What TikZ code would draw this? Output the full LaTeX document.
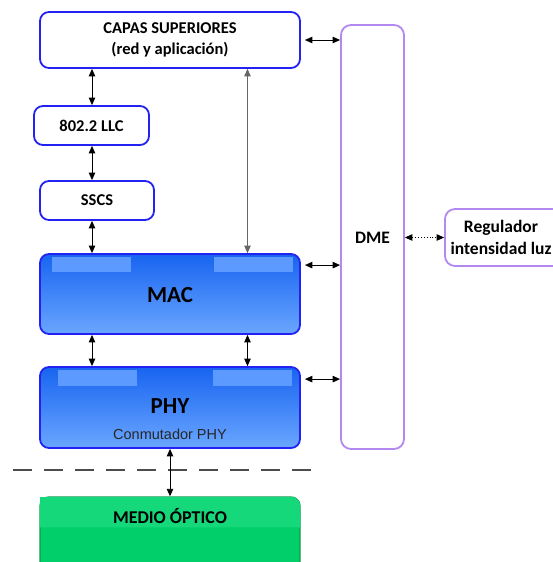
\documentclass[tikz,border=0pt]{standalone}
\usepackage{fontspec}
\setmainfont{Carlito}
\newfontfamily\arialfont{Liberation Sans}
\usetikzlibrary{arrows.meta,calc}
\definecolor{edgeblue}{HTML}{2222F2}
\definecolor{darkblue}{HTML}{1864F0}
\definecolor{lightblue}{HTML}{6AA6FF}
\definecolor{glowblue}{HTML}{5C9AFF}
\definecolor{dmepurple}{HTML}{B388F0}
\definecolor{medgreen}{HTML}{00CF6A}
\definecolor{medgreenlight}{HTML}{14D87A}
\definecolor{medgreenedge}{HTML}{139A4E}
\tikzset{
  whitebox/.style={draw=edgeblue, line width=1.8pt, fill=white, rounded corners=9pt,
    font=\bfseries\fontsize{16.5}{21}\selectfont, align=center, inner sep=0pt},
  layerbox/.style={draw=edgeblue, line width=1.8pt, rounded corners=9pt,
    top color=darkblue, bottom color=lightblue, inner sep=0pt},
  purplebox/.style={draw=dmepurple, line width=1.8pt, fill=white, rounded corners=10pt,
    font=\bfseries\fontsize{17.5}{22}\selectfont, align=center, inner sep=0pt},
  glow/.style={fill=glowblue, draw=none, inner sep=0pt},
  arr/.style={{Triangle[length=7.5pt,width=6.5pt]}-{Triangle[length=7.5pt,width=6.5pt]}, line width=0.9pt, black},
  grayarr/.style={arr, draw=gray!80!black},
  dotarr/.style={arr, dotted},
  bigtext/.style={font=\bfseries\fontsize{23}{27}\selectfont},
}
\begin{document}
\begin{tikzpicture}[x=1pt,y=-1pt]
\useasboundingbox (0,0) rectangle (552,562);

% upper layers and convergence sublayers
\node[whitebox, minimum width=260pt, minimum height=56pt] (capas) at (170,40)
  {CAPAS SUPERIORES\\(red y aplicación)};
\node[whitebox, minimum width=115pt, minimum height=39pt] (llc) at (91.5,125.5) {802.2 LLC};
\node[whitebox, minimum width=114pt, minimum height=39pt] (sscs) at (97,200.5) {SSCS};

% MAC layer
\node[layerbox, minimum width=260pt, minimum height=80pt] (mac) at (170,294) {};
\node[glow, minimum width=79pt, minimum height=15pt] (macg1) at (91.5,264.5) {};
\node[glow, minimum width=79pt, minimum height=15pt] (macg2) at (253.5,264.5) {};
\node[bigtext] (mactxt) at (170,295) {MAC};

% PHY layer
\node[layerbox, minimum width=260pt, minimum height=81pt] (phy) at (170,407.5) {};
\node[glow, minimum width=79pt, minimum height=16pt] (phyg1) at (97.5,378) {};
\node[glow, minimum width=79pt, minimum height=16pt] (phyg2) at (252.5,378) {};
\node[bigtext] (phytxt) at (170,406) {PHY};
\node[font=\arialfont\fontsize{14.5}{17}\selectfont, text=black!85] (physub) at (170,434) {Conmutador PHY};

% optical medium
\node[draw=medgreenedge, line width=1.4pt, fill=medgreen, rounded corners=9pt,
  minimum width=260pt, minimum height=90pt, inner sep=0pt] (medio) at (170,542) {};
\fill[medgreenlight] ([shift={(0.7pt,-0.7pt)}]medio.north west) [rounded corners=8.3pt]
  -- ([shift={(-0.7pt,-0.7pt)}]medio.north east) [sharp corners]
  -- ([shift={(-0.7pt,-31pt)}]medio.north east) -- ([shift={(0.7pt,-31pt)}]medio.north west) -- cycle;
\node[font=\bfseries\fontsize{18}{21}\selectfont] (mediotxt) at (170,516) {MEDIO ÓPTICO};

% management entity
\node[purplebox, minimum width=63pt, minimum height=424pt] (dme) at (372.5,237) {};
\node[font=\bfseries\fontsize{17.5}{21}\selectfont] (dmetxt) at (372.5,238) {DME};
\node[purplebox, minimum width=120pt, minimum height=57pt] (reg) at (505,237.5) {};
\node[font=\bfseries\fontsize{17.5}{22}\selectfont, align=center] (regtxt) at (501,237.5)
  {Regulador\\intensidad luz};

% boundary line
\coordinate (dl) at (13,470);
\coordinate (dr) at (322,470);
\draw[line width=1.8pt, draw=black!70, dash pattern=on 19pt off 12pt] (dl) -- (dr);

% vertical connectors
\draw[arr] (capas.south -| 92,0) -- (llc.north -| 92,0);
\draw[arr] (llc.south -| 92,0) -- (sscs.north -| 92,0);
\draw[arr] (sscs.south -| 92,0) -- (mac.north -| 92,0);
\draw[grayarr] ($(capas.south west)!0.796!(capas.south east)$) -- ($(mac.north west)!0.796!(mac.north east)$);
\draw[arr] (mac.south -| 92,0) -- (phy.north -| 92,0);
\draw[arr] ($(mac.south west)!0.796!(mac.south east)$) -- ($(phy.north west)!0.796!(phy.north east)$);
\draw[arr] (phy.south) -- (medio.north);

% connectors to the management entity
\draw[arr, shorten <=4pt] (capas.east) -- (capas.east -| dme.west);
\draw[arr, shorten <=4pt] ([yshift=-12pt]mac.north east) -- ([yshift=-12pt]mac.north east -| dme.west);
\draw[arr, shorten <=4pt] ([yshift=-13pt]phy.north east) -- ([yshift=-13pt]phy.north east -| dme.west);
\draw[dotarr] (dme.east |- reg.west) -- (reg.west);
\end{tikzpicture}
\end{document}
